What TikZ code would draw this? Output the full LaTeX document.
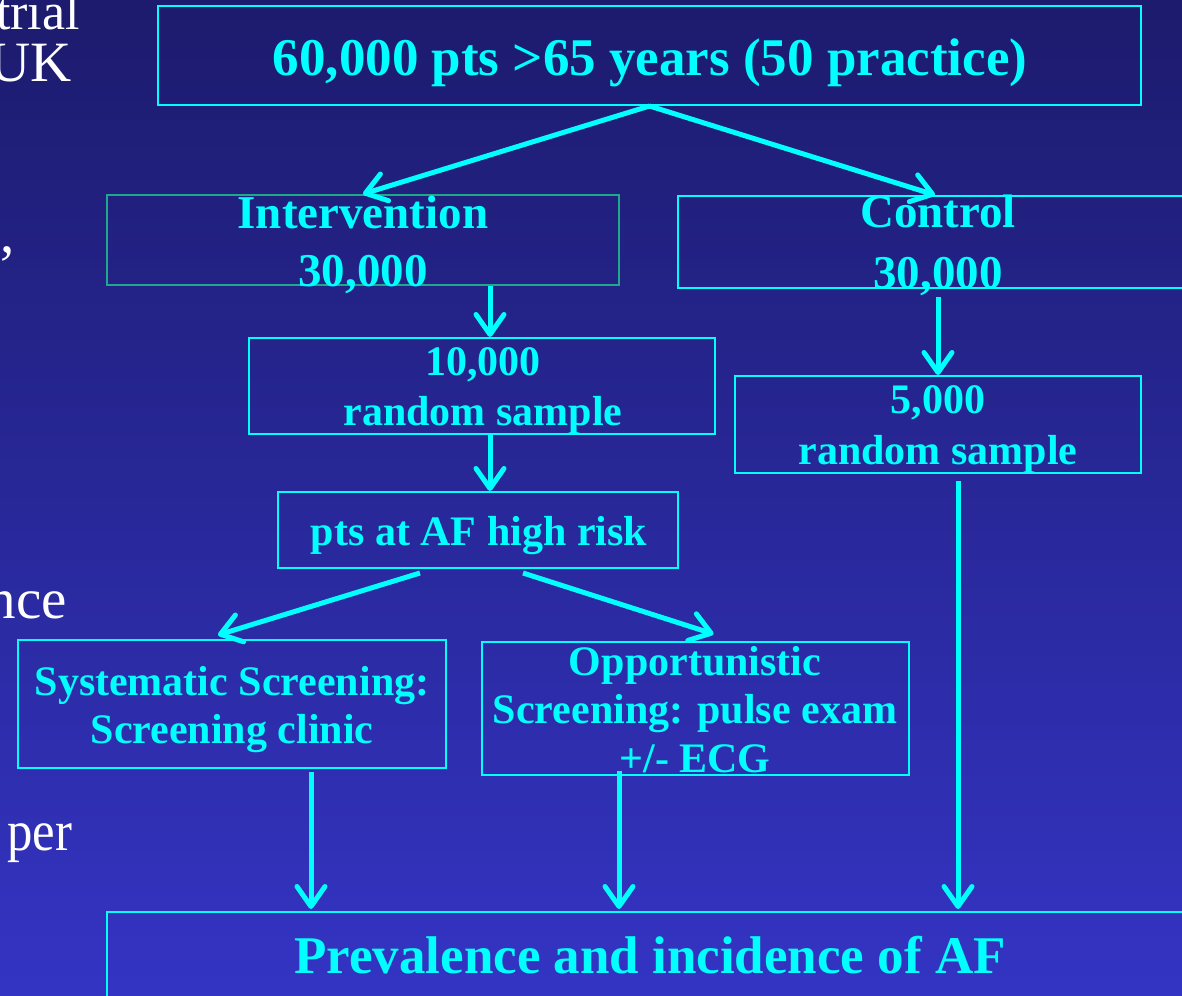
\documentclass[tikz,border=0pt]{standalone}
\usepackage{fontspec}
\setmainfont{Liberation Serif}
\usetikzlibrary{arrows.meta}
\definecolor{Navy}{HTML}{1C1B6D}
\definecolor{Blue}{HTML}{3434C4}
\definecolor{Cyan}{HTML}{00FFFF}
\definecolor{Teal}{HTML}{1FA88C}

\begin{document}
\begin{tikzpicture}[x=1pt, y=-1pt,
      box/.style={draw=Cyan, line width=2pt, inner sep=0pt},
      words/.style 2 args={text=Cyan, align=center, anchor=base, inner sep=0pt,
                  font=\fontsize{#1}{#2}\selectfont\bfseries},
      side/.style={text=white, inner sep=0pt, font=\fontsize{57}{57}\selectfont},
      ar/.style={-{Straight Barb[length=20pt, width=28pt, line width=5pt, round]}, Cyan, line width=5pt}]

    \useasboundingbox (0,0) rectangle (1182,995);
    \clip (0,0) rectangle (1182,995);
    \shade[top color=Navy, bottom color=Blue] (0,0) rectangle (1182,995);

    % slide text cut off on the left
    \node[side, font=\fontsize{52}{52}\selectfont, anchor=base east] (tri) at (80,30) {trial};
    \node[side, anchor=base east] (uk) at (72,82) {UK};
    \node[side, anchor=base west] (cm) at (0,252) {,};
    \node[side, anchor=base east] (nce) at (67,618) {nce};
    \node[side, xscale=0.89, anchor=base west] (per) at (7,850) {per};

    % boxes
    \node[box, minimum width=983pt, minimum height=99pt] (top) at (649.5,55.5) {};
    \node[box, draw=Teal, minimum width=512pt, minimum height=90pt] (int) at (363,240) {};
    \node[box, minimum width=514pt, minimum height=92pt] (ctl) at (935,242) {};
    \node[box, minimum width=466pt, minimum height=96pt] (s10) at (482,386) {};
    \node[box, minimum width=406pt, minimum height=97pt] (s5) at (938,424.5) {};
    \node[box, minimum width=400pt, minimum height=76pt] (hr) at (478,530) {};
    \node[box, minimum width=428pt, minimum height=128pt] (sys) at (232,704) {};
    \node[box, minimum width=427pt, minimum height=133pt] (opp) at (695.5,708.5) {};
    \node[box, minimum width=1083pt, minimum height=91pt] (prev) at (648.5,957.5) {};

    % texts (base = last line)
    \node[words={53}{60}] (topt) at (650,76) {60,000 pts >65 years (50 practice)};
    \node[words={47}{58}] (intt) at (363,286) {Intervention\\30,000};
    \node[words={47}{61}] (ctlt) at (938,288) {Control\\30,000};
    \node[words={42}{50}] (s10t) at (483,425) {10,000\\random sample};
    \node[words={42}{51}] (s5t) at (938,464) {5,000\\random sample};
    \node[words={42}{50}] (hrt) at (479,545) {pts at AF high risk};
    \node[words={42}{48}] (syst) at (232,743) {Systematic Screening:\\Screening clinic};
    \node[words={42}{48.5}] (oppt) at (695,772) {Opportunistic\\Screening: pulse exam\\+/- ECG};
    \node[words={53}{60}] (prevt) at (650,973) {Prevalence and incidence of AF};

    % arrows
    \draw[ar] (top.south) -- (int.north);
    \draw[ar] (top.south) -- (ctl.north);
    \draw[ar] ([xshift=8pt]s10.north |- int.south) -- ([xshift=8pt]s10.north);
    \draw[ar] ([yshift=-8pt]ctl.south -| s5.north) -- (s5.north);
    \draw[ar] ([xshift=12pt]hr.north |- s10.south) -- ([xshift=12pt]hr.north);
    \draw[ar] ([xshift=-58pt, yshift=-4pt]hr.south) -- ([xshift=-14pt, yshift=4pt]sys.north);
    \draw[ar] ([xshift=45pt, yshift=-4pt]hr.south) -- ([xshift=18pt, yshift=7pt]opp.north);
    \draw[ar] ([xshift=79pt, yshift=-3pt]sys.south) -- ([xshift=79pt, yshift=2pt]sys.south |- prev.north);
    \draw[ar] ([xshift=-76.5pt, yshift=5pt]opp.south) -- ([xshift=-76.5pt, yshift=2pt]opp.south |- prev.north);
    \draw[ar] ([xshift=20pt, yshift=-7pt]s5.south) -- ([xshift=20pt, yshift=2pt]s5.south |- prev.north);
  \end{tikzpicture}
\end{document}
